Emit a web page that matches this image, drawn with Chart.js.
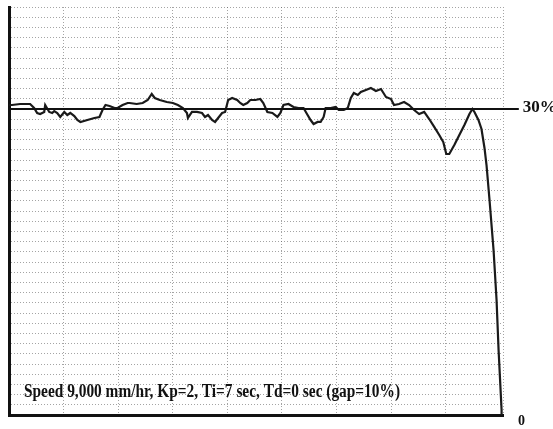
<!DOCTYPE html>
<html>
<head>
<meta charset="utf-8">
<script src="https://cdn.jsdelivr.net/npm/chart.js@4.4.1/dist/chart.umd.min.js"></script>
<style>
  html, body { margin: 0; padding: 0; background: #fff; }
  #wrap { width: 553px; height: 429px; }
</style>
</head>
<body>
<div id="wrap"><canvas id="c" width="553" height="429"></canvas></div>
<script>
// Recorder trace: time (grid units) and level (%)
const timeValues = [
  0.0, 0.55, 2.03, 3.87, 4.60, 5.16, 5.71, 6.45, 6.63, 7.37, 7.92, 8.29, 8.84, 9.39,
  10.13, 10.68, 11.23, 11.97, 12.52, 13.08, 14.36, 15.65, 16.57, 17.13, 17.68, 18.42,
  19.34, 19.89, 20.81, 21.73, 22.10, 23.39, 24.49, 25.41, 26.15, 26.70, 27.62, 28.91,
  30.02, 30.94, 31.86, 32.60, 32.78, 33.52, 34.44, 35.36, 35.91, 36.46, 37.20, 37.75,
  38.31, 39.04, 39.59, 40.15, 40.88, 41.80, 42.36, 42.91, 43.65, 44.20, 45.12, 46.04,
  46.59, 47.33, 48.25, 49.17, 49.72, 50.28, 51.20, 52.12, 53.04, 53.96, 54.70, 55.25,
  55.80, 56.54, 57.09, 57.64, 58.01, 58.93, 59.85, 60.41, 61.33, 62.06, 62.62, 63.17,
  63.90, 64.46, 65.38, 66.30, 67.22, 68.14, 69.06, 69.98, 70.53, 71.45, 72.38, 73.30,
  74.22, 75.14, 76.06, 76.98, 77.90, 78.82, 79.56, 80.11, 80.66, 81.58, 82.50, 83.43,
  84.35, 84.90, 85.27, 86.00, 86.56, 87.11, 87.48, 88.03, 88.77, 89.32, 89.69, 90.24,
  90.24
];
const levelValues = [
  30.39, 30.39, 30.49, 30.49, 30.10, 29.61, 29.51, 29.71, 30.39, 29.71, 29.61, 29.80, 29.61, 29.22,
  29.71, 29.41, 29.61, 29.31, 28.92, 28.73, 28.92, 29.12, 29.22, 29.90, 30.39, 30.29,
  30.10, 30.10, 30.39, 30.59, 30.59, 30.49, 30.59, 30.88, 31.47, 31.08, 30.88, 30.69,
  30.59, 30.39, 30.10, 29.61, 29.12, 29.71, 29.71, 29.61, 29.22, 29.41, 28.92, 28.73,
  29.12, 29.61, 29.71, 30.88, 31.08, 30.88, 30.59, 30.39, 30.59, 30.88, 30.88, 30.98,
  30.59, 29.71, 29.61, 29.22, 29.61, 30.39, 30.49, 30.20, 30.10, 30.10, 29.41, 28.92,
  28.53, 28.73, 28.73, 29.22, 30.10, 30.10, 30.20, 29.90, 29.90, 30.10, 31.08, 31.57,
  31.37, 31.67, 31.86, 32.06, 31.76, 31.96, 31.18, 30.98, 30.39, 30.49, 30.69, 30.39,
  29.90, 29.51, 29.71, 29.02, 28.24, 27.45, 26.76, 25.59, 25.59, 26.47, 27.45, 28.43,
  29.51, 30.00, 29.71, 28.92, 28.04, 26.18, 24.51, 21.08, 16.18, 11.27, 6.37, 0.49,
  0
];

// Set-point reference line and its label
const setpointLevel = 30;
const setpointSpan = [0, 93.4];
const setpointLabel = '30%';
const zeroLabel = '0';
const captionText = 'Speed 9,000 mm/hr, Kp=2, Ti=7 sec, Td=0 sec (gap=10%)';

// Axis extents and grid steps
const timeRange = [0, 90.5];
const timeStep = 10;
const levelRange = [0, 40];
const levelStep = 1;

const trace = timeValues.map((t, i) => ({ x: t, y: levelValues[i] }));
const setpoint = setpointSpan.map(t => ({ x: t, y: setpointLevel }));

// dotted recorder-paper grid
const gridStyle = {
  color: 'rgba(90,90,90,0.55)',
  lineWidth: 1,
  drawTicks: false
};

const annotations = {
  id: 'recorderText',
  afterDatasetsDraw(chart) {
    const { ctx, scales: { x, y } } = chart;
    ctx.save();
    ctx.fillStyle = '#111';
    ctx.textBaseline = 'middle';
    ctx.font = 'bold 17px "Liberation Serif", "DejaVu Serif", serif';
    ctx.textAlign = 'left';
    ctx.fillText(setpointLabel, x.getPixelForValue(setpointSpan[1]) + 4, y.getPixelForValue(setpointLevel) - 1);
    ctx.font = 'bold 14px "Liberation Serif", "DejaVu Serif", serif';
    ctx.fillText(zeroLabel, x.getPixelForValue(timeRange[1]) + 15, y.getPixelForValue(0) + 6);
    // caption inside the plot, near the bottom
    ctx.font = 'bold 18px "Liberation Serif", "DejaVu Serif", serif';
    const w = ctx.measureText(captionText).width;
    const target = 376;
    ctx.translate(x.left + 15, y.getPixelForValue(2.2));
    ctx.scale(target / w, 1);
    ctx.fillText(captionText, 0, 0);
    ctx.restore();
  }
};

new Chart(document.getElementById('c'), {
  type: 'line',
  data: {
    datasets: [
      {
        data: setpoint,
        borderColor: '#111',
        borderWidth: 2,
        pointRadius: 0,
        clip: false
      },
      {
        data: trace,
        borderColor: '#1a1a1a',
        borderWidth: 2.2,
        pointRadius: 0,
        tension: 0,
        clip: false
      }
    ]
  },
  options: {
    responsive: false,
    animation: false,
    layout: { padding: { left: 9, top: 7, right: 50, bottom: 14 } },
    plugins: { legend: { display: false }, tooltip: { enabled: false } },
    scales: {
      x: {
        type: 'linear',
        min: timeRange[0],
        max: timeRange[1],
        ticks: { display: false, stepSize: timeStep },
        grid: { ...gridStyle },
        border: { display: true, color: '#111', width: 3, dash: [1, 2] }
      },
      y: {
        type: 'linear',
        min: levelRange[0],
        max: levelRange[1],
        ticks: { display: false, stepSize: levelStep },
        grid: { ...gridStyle },
        border: { display: true, color: '#111', width: 3, dash: [1, 2] }
      }
    }
  },
  plugins: [annotations]
});
</script>
</body>
</html>
